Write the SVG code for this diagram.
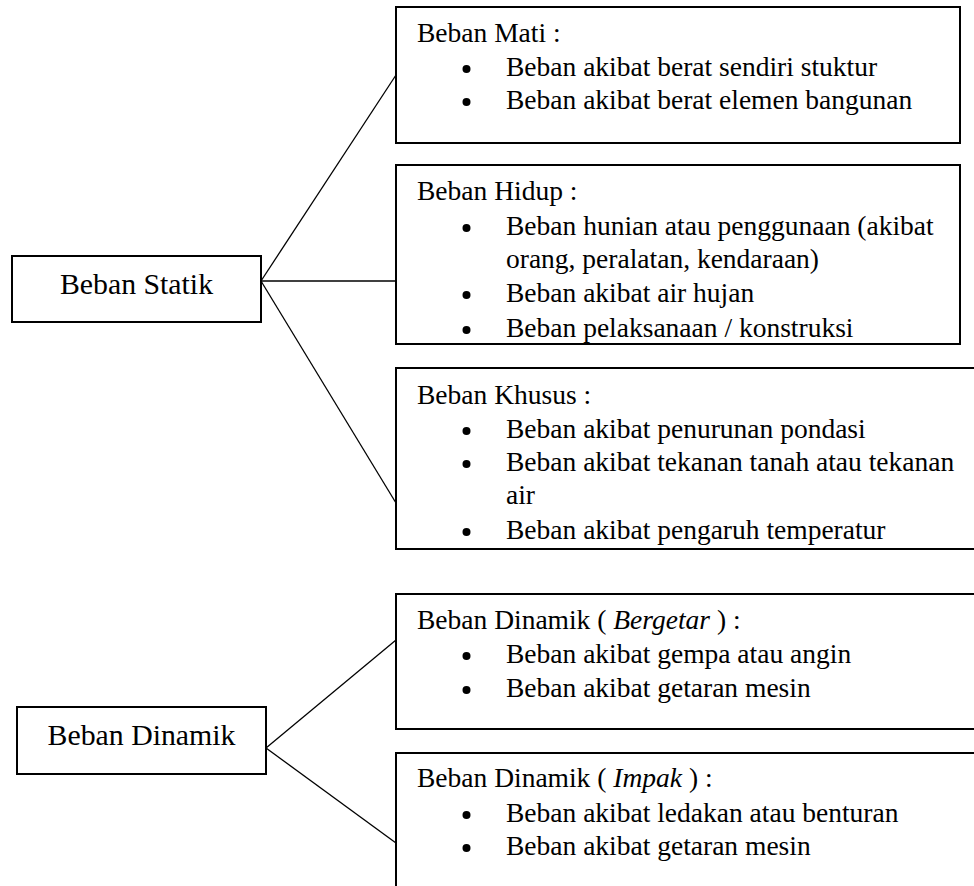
<svg xmlns="http://www.w3.org/2000/svg" width="974" height="886" viewBox="0 0 974 886">
<style>
.box{fill:#fff;stroke:#000;stroke-width:2}
.con{stroke:#000;stroke-width:1.3;fill:none}
.t{font-family:"Liberation Serif","Times New Roman",serif;font-size:27.5px;fill:#000}
.lbl{font-family:"Liberation Serif","Times New Roman",serif;font-size:29.8px;fill:#000;text-anchor:middle}
.it{font-style:italic}
.dot{fill:#000}
</style>
<defs>
<clipPath id="cHidup"><rect x="397" y="166" width="562" height="177"/></clipPath>
<clipPath id="cKhusus"><rect x="397" y="369" width="588" height="179"/></clipPath>
</defs>
<rect width="974" height="886" fill="#fff"/>
<g id="connectors">
<line class="con" x1="261" y1="281" x2="396" y2="75"/>
<line class="con" x1="261" y1="281" x2="396" y2="281"/>
<line class="con" x1="261" y1="281" x2="396" y2="503"/>
<line class="con" x1="266" y1="748" x2="396" y2="640"/>
<line class="con" x1="266" y1="748" x2="396" y2="843"/>
</g>
<g id="statik">
<rect class="box" x="12" y="256" width="249" height="66"/>
<text class="lbl" x="136.5" y="294">Beban Statik</text>
</g>
<g id="dinamik">
<rect class="box" x="17" y="707" width="249" height="67"/>
<text class="lbl" x="141.5" y="745">Beban Dinamik</text>
</g>
<g id="mati">
<rect class="box" x="396" y="7" width="564" height="136"/>
<text class="t" x="417" y="42">Beban Mati :</text>
<circle class="dot" cx="466.5" cy="69" r="4"/>
<text class="t" x="506" y="76">Beban akibat berat sendiri stuktur</text>
<circle class="dot" cx="466.5" cy="102" r="4"/>
<text class="t" x="506" y="109">Beban akibat berat elemen bangunan</text>
</g>
<g id="hidup">
<rect class="box" x="396" y="165" width="564" height="179"/>
<g clip-path="url(#cHidup)">
<text class="t" x="417" y="200">Beban Hidup :</text>
<circle class="dot" cx="466.5" cy="228" r="4"/>
<text class="t" x="506" y="235">Beban hunian atau penggunaan (akibat</text>
<text class="t" x="506" y="268">orang, peralatan, kendaraan)</text>
<circle class="dot" cx="466.5" cy="295" r="4"/>
<text class="t" x="506" y="302">Beban akibat air hujan</text>
<circle class="dot" cx="466.5" cy="330" r="4"/>
<text class="t" x="506" y="337">Beban pelaksanaan / konstruksi</text>
</g>
</g>
<g id="khusus">
<rect class="box" x="396" y="368" width="590" height="181"/>
<g clip-path="url(#cKhusus)">
<text class="t" x="417" y="404">Beban Khusus :</text>
<circle class="dot" cx="466.5" cy="431" r="4"/>
<text class="t" x="506" y="438">Beban akibat penurunan pondasi</text>
<circle class="dot" cx="466.5" cy="464" r="4"/>
<text class="t" x="506" y="471">Beban akibat tekanan tanah atau tekanan</text>
<text class="t" x="506" y="504">air</text>
<circle class="dot" cx="466.5" cy="532" r="4"/>
<text class="t" x="506" y="539">Beban akibat pengaruh temperatur</text>
</g>
</g>
<g id="bergetar">
<rect class="box" x="396" y="594" width="590" height="135"/>
<text class="t" x="417" y="629">Beban Dinamik ( <tspan class="it">Bergetar</tspan> ) :</text>
<circle class="dot" cx="466.5" cy="656" r="4"/>
<text class="t" x="506" y="663">Beban akibat gempa atau angin</text>
<circle class="dot" cx="466.5" cy="690" r="4"/>
<text class="t" x="506" y="697">Beban akibat getaran mesin</text>
</g>
<g id="impak">
<rect class="box" x="396" y="753" width="590" height="150"/>
<text class="t" x="417" y="787">Beban Dinamik ( <tspan class="it">Impak</tspan> ) :</text>
<circle class="dot" cx="466.5" cy="815" r="4"/>
<text class="t" x="506" y="822">Beban akibat ledakan atau benturan</text>
<circle class="dot" cx="466.5" cy="848" r="4"/>
<text class="t" x="506" y="855">Beban akibat getaran mesin</text>
</g>
</svg>
